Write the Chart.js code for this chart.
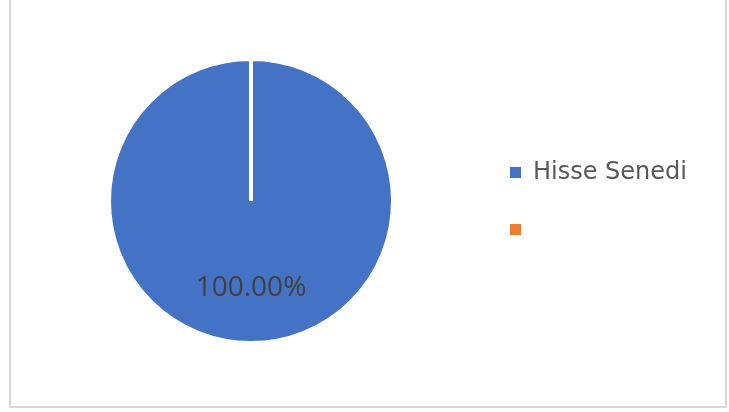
<!DOCTYPE html>
<html>
<head>
<meta charset="utf-8">
<script src="https://cdn.jsdelivr.net/npm/chart.js@4/dist/chart.umd.min.js"></script>
<style>
  html, body { margin: 0; padding: 0; background: #fff; }
  body { width: 729px; height: 412px; position: relative; overflow: hidden; }
  .frame {
    position: absolute; left: 9px; top: -10px; width: 714px; height: 414px;
    border: 2px solid #d9d9d9; background: #fff;
  }
  .chart-box { position: absolute; left: 0; top: 0; width: 729px; height: 412px; }
</style>
</head>
<body>
<div class="frame"></div>
<div class="chart-box"><canvas id="pie"></canvas></div>
<script>
// data
const categories = ['Hisse Senedi', ''];
const shares = [100, 0];
const sliceColors = ['#4472C4', '#ED7D31'];

// percentage label drawn on the slice (Excel style)
const percentLabel = {
  id: 'percentLabel',
  afterDatasetsDraw(chart) {
    const ctx = chart.ctx;
    const meta = chart.getDatasetMeta(0);
    const total = shares.reduce((a, b) => a + b, 0);
    meta.data.forEach((arc, i) => {
      if (!shares[i]) return;
      const p = arc.getProps(['x', 'y', 'outerRadius', 'startAngle', 'endAngle'], true);
      const mid = (p.startAngle + p.endAngle) / 2;
      const r = p.outerRadius * 0.61;
      ctx.save();
      ctx.font = '28px "Open Sans"';
      ctx.fillStyle = '#404040';
      ctx.textAlign = 'center';
      ctx.textBaseline = 'middle';
      ctx.fillText((shares[i] / total * 100).toFixed(2) + '%', p.x + Math.cos(mid) * r, p.y + Math.sin(mid) * r);
      ctx.restore();
    });
  }
};

const ctx = document.getElementById('pie').getContext('2d');
new Chart(ctx, {
  type: 'pie',
  data: {
    labels: categories,
    datasets: [{
      data: shares,
      backgroundColor: sliceColors,
      borderColor: '#ffffff',
      borderWidth: 4
    }]
  },
  options: {
    responsive: true,
    maintainAspectRatio: false,
    animation: false,
    layout: { padding: { top: 57, bottom: 67, left: 25, right: 32 } },
    plugins: {
      tooltip: { enabled: false },
      legend: {
        position: 'right',
        labels: {
          boxWidth: 11,
          boxHeight: 11,
          padding: 33,
          color: '#595959',
          font: { family: 'DejaVu Sans', size: 24 },
          generateLabels(chart) {
            const items = Chart.overrides.pie.plugins.legend.labels.generateLabels(chart);
            items.forEach(it => { it.lineWidth = 0; it.strokeStyle = it.fillStyle; });
            return items;
          }
        }
      }
    }
  },
  plugins: [percentLabel]
});
</script>
</body>
</html>
